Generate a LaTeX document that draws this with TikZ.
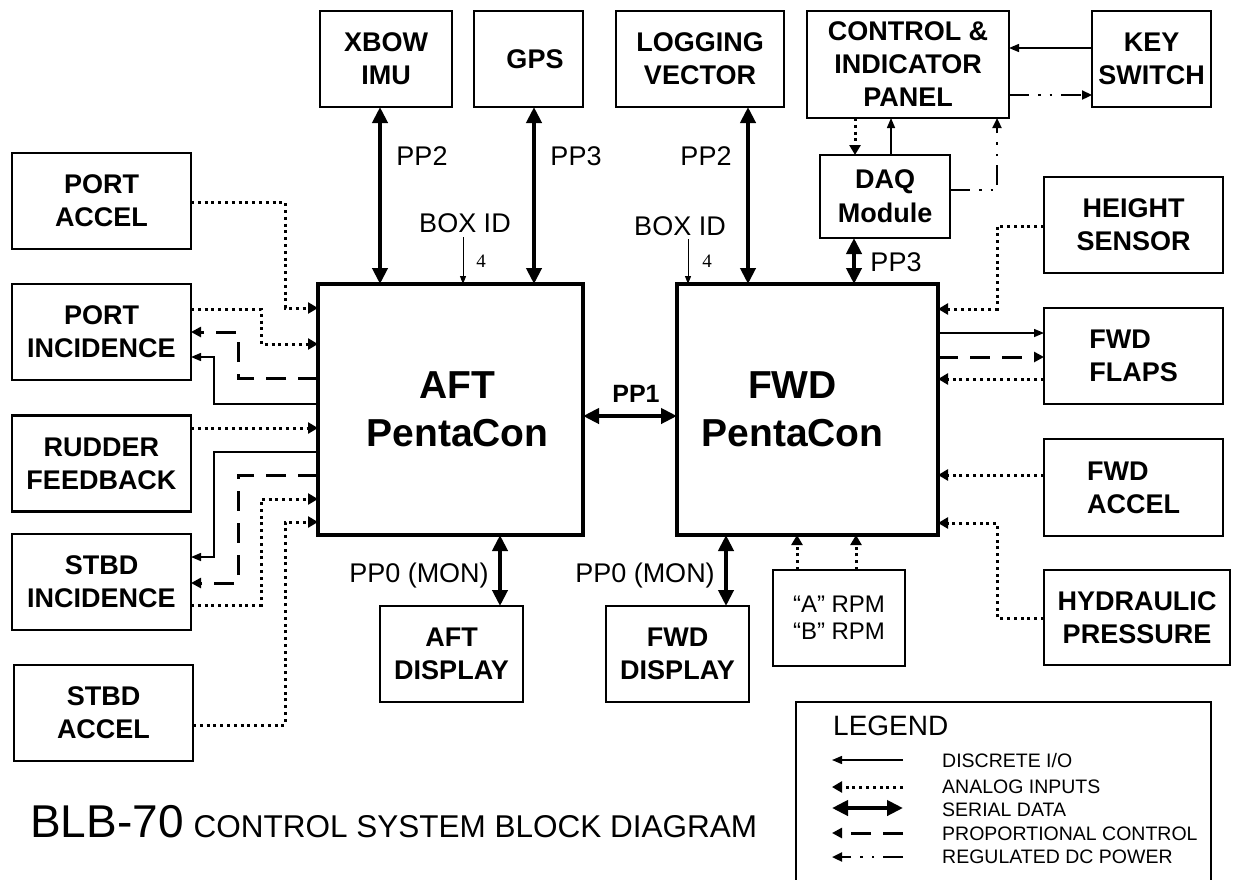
\documentclass[tikz,border=0pt]{standalone}
\usepackage{fontspec}
\setmainfont{Liberation Sans}
\newfontfamily\serifnum{Liberation Serif}
\usetikzlibrary{arrows.meta}
\begin{document}
\begin{tikzpicture}[x=1pt,y=-1pt,
  box/.style={draw, line width=2.6pt, inner sep=0pt, outer sep=0pt, align=center,
    font=\fontsize{27}{33}\selectfont\bfseries},
  thinbox/.style={box, line width=1.5pt},
  bigbox/.style={box, line width=4pt, font=\fontsize{39}{48}\selectfont\bfseries},
  lbl/.style={inner sep=0pt, anchor=base, font=\fontsize{27}{30}\selectfont},
  legtext/.style={inner sep=0pt, anchor=base west, font=\fontsize{19.5}{21}\selectfont},
  serial/.style={line width=4.5pt, {Triangle[length=16pt,width=15pt]}-{Triangle[length=16pt,width=15pt]}},
  discrete/.style={line width=1.4pt, -{Triangle[length=10pt,width=8pt]}},
  boxid/.style={line width=1pt, -{Triangle[length=8pt,width=6pt]}},
  analog/.style={line width=3pt, dash pattern=on 3pt off 3.8pt, -{Triangle[length=10pt,width=11pt]}},
  prop/.style={line width=3pt, dash pattern=on 20pt off 12pt, -{Triangle[length=10pt,width=10pt]}},
  power/.style={line width=2.2pt, dash pattern=on 20pt off 9pt on 2.5pt off 9pt on 2.5pt off 9pt, -{Triangle[length=10pt,width=9pt]}},
]
\fill[white] (0,0) rectangle (1233,879);
\useasboundingbox (0,0) rectangle (1233,879);

% top row
\node[box, minimum width=132pt, minimum height=96pt] (xbow) at (386,59) {XBOW\\IMU};
\node[box, minimum width=109pt, minimum height=96pt] (gps) at (528.5,59) {\hspace*{13pt}GPS};
\node[box, minimum width=168pt, minimum height=96pt] (logv) at (700,59) {LOGGING\\VECTOR};
\node[box, minimum width=202pt, minimum height=107pt] (cip) at (908,64.5) {CONTROL \&\\INDICATOR\\PANEL};
\node[box, minimum width=119pt, minimum height=96pt] (key) at (1151.5,59) {KEY\\SWITCH};
\node[thinbox, minimum width=130pt, minimum height=83pt, font=\fontsize{27}{34}\selectfont\bfseries] (daq) at (885,196.5) {DAQ\\Module};

% left column
\node[box, minimum width=179pt, minimum height=96pt] (portaccel) at (101.5,201) {PORT\\ACCEL};
\node[box, minimum width=179pt, minimum height=96pt] (portinc) at (101.5,332) {PORT\\INCIDENCE};
\node[box, minimum width=179pt, minimum height=96pt] (rudder) at (101.5,463.5) {RUDDER\\FEEDBACK};
\node[box, minimum width=179pt, minimum height=96pt] (stbdinc) at (101.5,582) {STBD\\INCIDENCE};
\node[box, minimum width=179pt, minimum height=96pt] (stbdaccel) at (103.5,713) {STBD\\ACCEL};

% controllers
\node[bigbox, minimum width=265pt, minimum height=251pt] (aft) at (450.5,409.5) {\hspace*{14pt}AFT\\\hspace*{14pt}PentaCon};
\node[bigbox, minimum width=261pt, minimum height=251pt] (fwd) at (807.5,409.5) {FWD\hspace*{30pt}\\PentaCon\hspace*{30pt}};

% right column
\node[box, minimum width=179pt, minimum height=96pt] (height) at (1133.5,225) {HEIGHT\\SENSOR};
\node[box, minimum width=179pt, minimum height=96pt, align=left] (flaps) at (1133.5,356) {FWD\\FLAPS};
\node[box, minimum width=179pt, minimum height=97pt, align=left] (fwdaccel) at (1133.5,487.5) {FWD\\ACCEL};
\node[box, minimum width=186pt, minimum height=95pt] (hyd) at (1137,617.5) {HYDRAULIC\\PRESSURE};

% bottom
\node[box, minimum width=143pt, minimum height=96pt] (aftdisp) at (451.5,654) {AFT\\DISPLAY};
\node[box, minimum width=143pt, minimum height=96pt] (fwddisp) at (677.5,654) {FWD\\DISPLAY};
\node[thinbox, minimum width=132pt, minimum height=96pt, font=\fontsize{24}{27}\selectfont] (rpm) at (839,618) {“A” RPM\\“B” RPM};

% labels
\node[lbl] (pp2a) at (422,165) {PP2};
\node[lbl] (pp3a) at (576,165) {PP3};
\node[lbl] (pp2b) at (706,165) {PP2};
\node[lbl] (pp3b) at (896,271) {PP3};
\node[lbl] (boxida) at (465,232) {BOX ID};
\node[lbl] (boxidb) at (680,235) {BOX ID};
\node[lbl, font=\serifnum\fontsize{19}{20}\selectfont] (foura) at (481,267) {4};
\node[lbl, font=\serifnum\fontsize{19}{20}\selectfont] (fourb) at (707,267) {4};
\node[lbl, font=\fontsize{25}{28}\selectfont\bfseries] (pp1) at (636,402) {PP1};
\node[lbl] (pp0a) at (419,582) {PP0 (MON)};
\node[lbl] (pp0b) at (645,582) {PP0 (MON)};

% serial data
\draw[serial] (xbow.south -| 380,0) -- (380,0 |- aft.north);
\draw[serial] (gps.south -| 534,0) -- (534,0 |- aft.north);
\draw[serial] (logv.south -| 748,0) -- (748,0 |- fwd.north);
\draw[serial] (daq.south -| 854,0) -- (854,0 |- fwd.north);
\draw[serial] (aft.east |- 0,416) -- (fwd.west |- 0,416);
\draw[serial] (aft.south -| 500,0) -- (aftdisp.north -| 500,0);
\draw[serial] (fwd.south -| 726,0) -- (fwddisp.north -| 726,0);

% box id
\coordinate (bida) at (463,237);
\coordinate (bidb) at (688,239);
\draw[boxid] (bida) -- (bida |- aft.north);
\draw[boxid] (bidb) -- (bidb |- fwd.north);

% left side connectors
\draw[analog] (portaccel.east |- 0,202) -- (285,202) -- (285,308) -- (aft.west |- 0,308);
\draw[analog] (portinc.east |- 0,309) -- (261,309) -- (261,344) -- (aft.west |- 0,344);
\draw[prop] (aft.west |- 0,378) -- (238,378) -- (238,332) -- (portinc.east |- 0,332);
\draw[discrete] (aft.west |- 0,404) -- (214,404) -- (214,357) -- (portinc.east |- 0,357);
\draw[analog] (rudder.east |- 0,428) -- (aft.west |- 0,428);
\draw[discrete] (aft.west |- 0,452) -- (214,452) -- (214,557) -- (stbdinc.east |- 0,557);
\draw[prop] (aft.west |- 0,475) -- (238,475) -- (238,583) -- (stbdinc.east |- 0,583);
\draw[analog] (stbdinc.east |- 0,605) -- (261,605) -- (261,499) -- (aft.west |- 0,499);
\draw[analog] (stbdaccel.east |- 0,725) -- (285,725) -- (285,522) -- (aft.west |- 0,522);

% right side connectors
\draw[analog] (height.west |- 0,226) -- (997,226) -- (997,309) -- (fwd.east |- 0,309);
\draw[discrete] (fwd.east |- 0,333) -- (flaps.west |- 0,333);
\draw[prop] (fwd.east |- 0,357) -- (flaps.west |- 0,357);
\draw[analog] (flaps.west |- 0,379) -- (fwd.east |- 0,379);
\draw[analog] (fwdaccel.west |- 0,475) -- (fwd.east |- 0,475);
\draw[analog] (hyd.west |- 0,618) -- (997,618) -- (997,523) -- (fwd.east |- 0,523);
\draw[analog] (rpm.north -| 797,0) -- (797,0 |- fwd.south);
\draw[analog] (rpm.north -| 856,0) -- (856,0 |- fwd.south);

% top right connectors
\draw[discrete] (key.west |- 0,48) -- (cip.east |- 0,48);
\draw[power] (cip.east |- 0,95) -- (key.west |- 0,95);
\draw[analog] (cip.south -| 855,0) -- (daq.north -| 855,0);
\draw[discrete] (daq.north -| 891,0) -- (cip.south -| 891,0);
\draw[power] (daq.east |- 0,190) -- (997,190) -- (997,0 |- cip.south);

% legend
\draw[line width=1.3pt] (796,890) -- (796,702) -- (1211,702) -- (1211,890);
\node[lbl, anchor=base west, font=\fontsize{28}{30}\selectfont] (legend) at (833,735) {LEGEND};
\foreach \n/\y in {1/760,2/787,3/808,4/833,5/857}{
  \coordinate (lgl\n) at (832,\y);
  \coordinate (lgr\n) at (903,\y);
}
\draw[discrete] (lgr1) -- (lgl1);
\draw[analog] (lgr2) -- (lgl2);
\draw[serial] (lgr3) -- (lgl3);
\draw[prop] (lgr4) -- (lgl4);
\draw[power] (lgr5) -- (lgl5);
\node[legtext] (lt1) at (942,767) {DISCRETE I/O};
\node[legtext] (lt2) at (942,793) {ANALOG INPUTS};
\node[legtext] (lt3) at (942,816) {SERIAL DATA};
\node[legtext] (lt4) at (942,840) {PROPORTIONAL CONTROL};
\node[legtext] (lt5) at (942,863) {REGULATED DC POWER};

% title
\node[inner sep=0pt, anchor=base west] (title) at (30,837)
  {\fontsize{46}{50}\selectfont BLB-70\hspace{10pt}\fontsize{31.5}{33}\selectfont CONTROL SYSTEM BLOCK DIAGRAM};
\end{tikzpicture}
\end{document}
